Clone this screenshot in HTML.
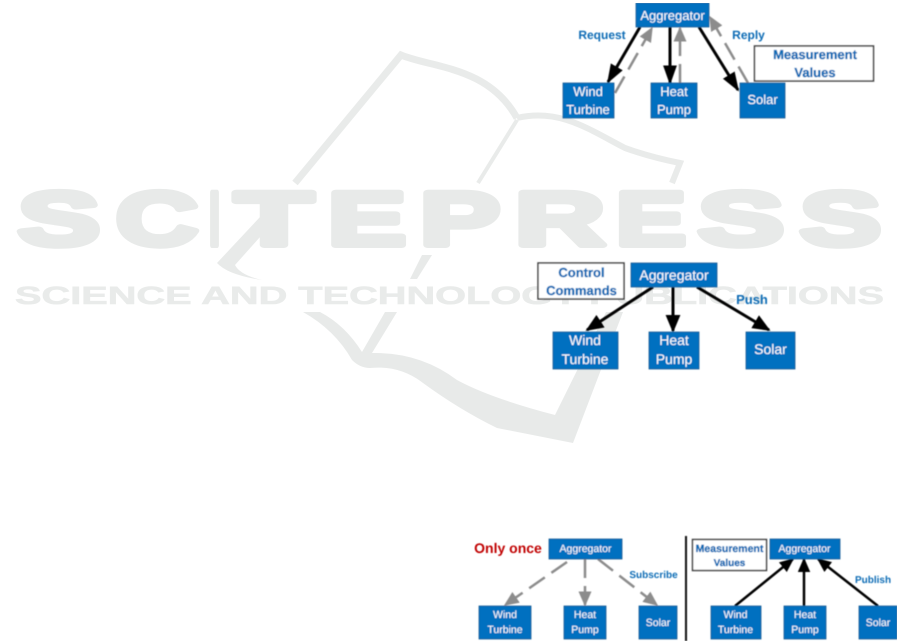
<!DOCTYPE html>
<html>
<head>
<meta charset="utf-8">
<style>
html,body{margin:0;padding:0;background:#fff;width:901px;height:641px;overflow:hidden}
svg{display:block;text-rendering:geometricPrecision}
.wm{font-family:"Liberation Sans",sans-serif;font-weight:bold;font-size:76px;fill:#e8eae9;stroke:#e8eae9;stroke-width:6;stroke-linejoin:round}
.wm2{font-family:"Liberation Sans",sans-serif;font-weight:bold;font-size:25px;fill:#e9ebea;stroke:#e9ebea;stroke-width:.6}
.bk{fill:none;stroke:#e9ebea;stroke-linejoin:miter}
text.n{font-family:"Liberation Sans",sans-serif;fill:#fff;text-anchor:middle}
text.l{font-family:"Liberation Sans",sans-serif;font-weight:bold;fill:#0b6cb5;text-anchor:middle}
text.s{stroke:#0b6cb5;stroke-width:.35}
.box{fill:#0070c0;stroke:#1c5c93;stroke-width:.8}
.wb{fill:#fff;stroke:#404040;stroke-width:1.5}
.a{stroke:#000;stroke-width:3;fill:none}
.g{stroke:#8c8c8c;stroke-width:2.5;fill:none}
.d{stroke-dasharray:19 8}
</style>
</head>
<body>
<svg width="901" height="641" viewBox="0 0 901 641" xmlns="http://www.w3.org/2000/svg">
<defs>
<marker id="k" viewBox="0 0 10 10" refX="9" refY="5" markerWidth="6.5" markerHeight="4.600" orient="auto" markerUnits="strokeWidth" preserveAspectRatio="none"><path d="M0 0L10 5L0 10z" fill="#000"/></marker>
<marker id="m" viewBox="0 0 10 10" refX="9" refY="5" markerWidth="6" markerHeight="5" orient="auto" markerUnits="strokeWidth" preserveAspectRatio="none"><path d="M0 0L10 5L0 10z" fill="#000"/></marker>
<marker id="y" viewBox="0 0 10 10" refX="9" refY="5" markerWidth="6" markerHeight="5.200" orient="auto" markerUnits="strokeWidth" preserveAspectRatio="none"><path d="M0 0L10 5L0 10z" fill="#8c8c8c"/></marker>
<marker id="k2" viewBox="0 0 10 10" refX="9" refY="5" markerWidth="5.800" markerHeight="5" orient="auto" markerUnits="strokeWidth" preserveAspectRatio="none"><path d="M0 0L10 5L0 10z" fill="#000"/></marker>
<filter id="b" x="0" y="0" width="100%" height="100%"><feGaussianBlur stdDeviation=".45"/></filter>
</defs>

<!-- watermark -->
<g>
<path class="bk" stroke-width="7" d="M295 183L401 55C432 68 488 66 517 118"/>
<path class="bk" stroke-width="6" d="M517 118C560 108 590 130 625 148Q650 157 680 163L672 183"/>
<path class="bk" stroke-width="4" d="M517 120L478 183"/>
<path d="M260 217L217 263Q228 275 262 280Q240 275 235 265L260 237Z" fill="#e8eae9"/>
<path d="M445 233L438 233L436 243L439 243ZM422 255L432 255L417 279L410 279Z" fill="#e8eae9"/>
<path d="M303 312Q335 330 352 360Q360 368 370 368Q400 365 423 383Q460 410 497 428L573 443L623 312L606 312L555 415Q490 398 457 380Q420 352 372 353L397 312L385 312L362 352Q345 325 320 312Z" fill="#e8eae9"/>
<g class="wm">
<text x="18" y="245" textLength="82" lengthAdjust="spacingAndGlyphs">S</text>
<text x="116" y="245" textLength="82" lengthAdjust="spacingAndGlyphs">C</text>
<text x="209" y="245" textLength="11" lengthAdjust="spacingAndGlyphs">I</text>
<text x="235" y="245" textLength="78" lengthAdjust="spacingAndGlyphs">T</text>
<text x="328" y="245" textLength="78" lengthAdjust="spacingAndGlyphs">E</text>
<text x="420" y="245" textLength="80" lengthAdjust="spacingAndGlyphs">P</text>
<text x="515" y="245" textLength="90" lengthAdjust="spacingAndGlyphs">R</text>
<text x="616" y="245" textLength="70" lengthAdjust="spacingAndGlyphs">E</text>
<text x="698" y="245" textLength="86" lengthAdjust="spacingAndGlyphs">S</text>
<text x="800" y="245" textLength="81" lengthAdjust="spacingAndGlyphs">S</text>
</g>
<text class="wm2" x="15" y="304" textLength="869" lengthAdjust="spacingAndGlyphs">SCIENCE AND TECHNOLOGY PUBLICATIONS</text>
</g>

<g filter="url(#b)">
<!-- top diagram -->
<line class="g d" x1="615" y1="93" x2="652" y2="28" marker-end="url(#y)"/>
<line class="g d" x1="680" y1="83" x2="680" y2="28" marker-end="url(#y)"/>
<line class="g d" x1="748" y1="83" x2="710" y2="17" marker-end="url(#y)"/>
<line class="a" x1="640" y1="27" x2="608" y2="82" marker-end="url(#k)"/>
<line class="a" x1="670" y1="27" x2="670" y2="83" marker-end="url(#k)"/>
<line class="a" x1="699" y1="27" x2="738" y2="90" marker-end="url(#k)"/>
<rect class="box" x="636" y="3" width="73" height="24"/>
<rect class="box" x="563" y="83" width="51" height="35"/>
<rect class="box" x="651" y="83" width="46" height="35"/>
<rect class="box" x="740" y="83" width="45" height="35"/>
<rect class="wb" x="754.500" y="46" width="119" height="35"/>
<text class="n" font-size="13" x="672.500" y="20">Aggregator</text>
<text class="n" font-size="13" x="588" y="96">Wind</text>
<text class="n" font-size="13" x="588" y="114">Turbine</text>
<text class="n" font-size="13" x="674" y="96">Heat</text>
<text class="n" font-size="13" x="674" y="114">Pump</text>
<text class="n" font-size="13" x="762.500" y="104">Solar</text>
<text class="l" font-size="12" x="602" y="39">Request</text>
<text class="l" font-size="12" x="748.500" y="39">Reply</text>
<text class="l s" font-size="13" x="815" y="59">Measurement</text>
<text class="l s" font-size="13" x="815" y="77">Values</text>

<!-- middle diagram -->
<line class="a" x1="653" y1="287" x2="587" y2="330" marker-end="url(#m)"/>
<line class="a" x1="673" y1="287" x2="673" y2="331" marker-end="url(#m)"/>
<line class="a" x1="697" y1="287" x2="769" y2="330" marker-end="url(#m)"/>
<rect class="box" x="631" y="263" width="86" height="24"/>
<rect class="box" x="553" y="332" width="65" height="37"/>
<rect class="box" x="649" y="332" width="50" height="37"/>
<rect class="box" x="746" y="332" width="49" height="37"/>
<rect class="wb" x="538" y="263" width="86" height="36"/>
<text class="n" font-size="14" x="674" y="280">Aggregator</text>
<text class="n" font-size="14" x="585" y="345">Wind</text>
<text class="n" font-size="14" x="585" y="364">Turbine</text>
<text class="n" font-size="14" x="674" y="345">Heat</text>
<text class="n" font-size="14" x="674" y="364">Pump</text>
<text class="n" font-size="14" x="770.500" y="354">Solar</text>
<text class="l s" font-size="13" x="581.500" y="277">Control</text>
<text class="l s" font-size="13" x="581.500" y="295">Commands</text>
<text class="l" font-size="13" x="752" y="304">Push</text>

<!-- bottom left -->
<line class="g d" x1="567" y1="562" x2="505" y2="605" marker-end="url(#y)"/>
<line class="g d" x1="585" y1="559" x2="585" y2="605" marker-end="url(#y)"/>
<line class="g d" x1="598" y1="559" x2="657" y2="605" marker-end="url(#y)"/>
<rect class="box" x="549" y="539" width="73" height="20"/>
<rect class="box" x="479" y="606" width="52" height="33"/>
<rect class="box" x="564" y="606" width="42" height="33"/>
<rect class="box" x="639" y="606" width="38" height="33"/>
<text class="n" font-size="10.500" x="585.500" y="552">Aggregator</text>
<text class="n" font-size="10.500" x="505" y="618">Wind</text>
<text class="n" font-size="10.500" x="505" y="633">Turbine</text>
<text class="n" font-size="10.500" x="585" y="618">Heat</text>
<text class="n" font-size="10.500" x="585" y="633">Pump</text>
<text class="n" font-size="10.500" x="658" y="626">Solar</text>
<text x="508" y="553" font-family="Liberation Sans,sans-serif" font-weight="bold" font-size="14" fill="#c00000" text-anchor="middle">Only once</text>
<text class="l" font-size="10" x="653.500" y="578">Subscribe</text>

<line x1="686" y1="536" x2="686" y2="641" stroke="#111" stroke-width="2"/>

<!-- bottom right -->
<line class="a" x1="735" y1="606" x2="793" y2="559" marker-end="url(#k2)" style="stroke-width:2.5px"/>
<line class="a" x1="804" y1="606" x2="804" y2="559" marker-end="url(#k2)" style="stroke-width:2.5px"/>
<line class="a" x1="878" y1="606" x2="818" y2="559" marker-end="url(#k2)" style="stroke-width:2.5px"/>
<rect class="box" x="770" y="539" width="70" height="20"/>
<rect class="box" x="711" y="606" width="50" height="33"/>
<rect class="box" x="784" y="606" width="42" height="33"/>
<rect class="box" x="859" y="606" width="38" height="33"/>
<rect class="wb" x="692.500" y="539.500" width="74" height="31"/>
<text class="n" font-size="10.500" x="804.500" y="552">Aggregator</text>
<text class="n" font-size="10.500" x="735.500" y="618">Wind</text>
<text class="n" font-size="10.500" x="735.500" y="633">Turbine</text>
<text class="n" font-size="10.500" x="805" y="618">Heat</text>
<text class="n" font-size="10.500" x="805" y="633">Pump</text>
<text class="n" font-size="10.500" x="878" y="626">Solar</text>
<text class="l s" font-size="10.500" x="729.500" y="552">Measurement</text>
<text class="l s" font-size="10" x="729.500" y="566">Values</text>
<text class="l" font-size="10" x="873" y="583">Publish</text>
</g>
</svg>
</body>
</html>
